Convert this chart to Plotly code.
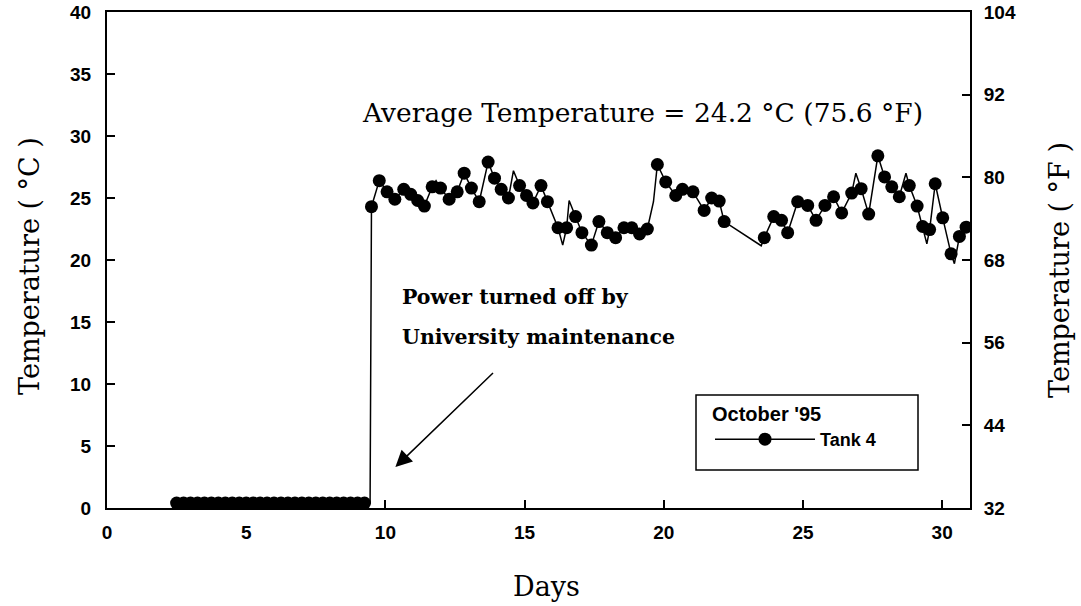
import plotly.graph_objects as go

# ---- data ----
# power-off period (readings at ~0.4 °C)
off_days = [2.5, 2.75, 3.0, 3.25, 3.5, 3.75, 4.0, 4.25, 4.5, 4.75, 5.0, 5.25, 5.5, 5.75,
            6.0, 6.25, 6.5, 6.75, 7.0, 7.25, 7.5, 7.75, 8.0, 8.25, 8.5, 8.75, 9.0, 9.25]
off_temp = [0.4] * len(off_days)

# marked readings after power restored
on_days = [9.50, 9.78, 10.06, 10.34, 10.66, 10.91, 11.16, 11.40, 11.68, 11.98, 12.29, 12.58,
           12.83, 13.09, 13.37, 13.69, 13.92, 14.16, 14.42, 14.82, 15.07, 15.30, 15.59, 15.82,
           16.20, 16.51, 16.83, 17.06, 17.40, 17.67, 17.97, 18.27, 18.57, 18.85, 19.13, 19.41,
           19.77, 20.07, 20.43, 20.67, 21.05, 21.45, 21.72, 21.99, 22.17,
           23.61, 23.95, 24.23, 24.45, 24.81, 25.17, 25.47, 25.79, 26.10, 26.39, 26.75, 27.09,
           27.36, 27.69, 27.93, 28.19, 28.46, 28.82, 29.10, 29.30, 29.55, 29.75, 30.02, 30.32,
           30.62, 30.86]
on_temp = [24.3, 26.4, 25.5, 24.9, 25.7, 25.3, 24.8, 24.35, 25.9, 25.8, 24.9, 25.5,
           27.0, 25.8, 24.7, 27.9, 26.6, 25.7, 25.0, 26.0, 25.2, 24.6, 26.0, 24.7,
           22.6, 22.6, 23.5, 22.2, 21.2, 23.1, 22.2, 21.8, 22.6, 22.6, 22.1, 22.5,
           27.7, 26.3, 25.2, 25.7, 25.5, 24.0, 25.0, 24.75, 23.1,
           21.8, 23.5, 23.2, 22.2, 24.7, 24.4, 23.2, 24.4, 25.1, 23.8, 25.4, 25.75,
           23.7, 28.4, 26.7, 25.9, 25.1, 26.0, 24.35, 22.7, 22.45, 26.15, 23.4, 20.5,
           21.9, 22.65]

# unmarked readings that only appear in the connecting line
line_only_days = [9.45, 11.82, 14.60, 16.37, 16.60, 19.63, 23.50, 26.90, 28.70, 29.45, 30.44]
line_only_temp = [0.4, 26.4, 27.2, 21.2, 24.8, 24.7, 21.15, 27.0, 27.0, 21.3, 19.7]

x_ticks = [0, 5, 10, 15, 20, 25, 30]
yc_ticks = [0, 5, 10, 15, 20, 25, 30, 35, 40]
yf_ticks = [32, 44, 56, 68, 80, 92, 104]

# merged line
pts = sorted(list(zip(off_days, off_temp)) + list(zip(on_days, on_temp)) +
             list(zip(line_only_days, line_only_temp)))
line_x = [p[0] for p in pts]
line_y = [p[1] for p in pts]

fig = go.Figure()
fig.add_trace(go.Scatter(x=line_x, y=line_y, mode="lines",
                         line=dict(color="black", width=1.5),
                         showlegend=False, hoverinfo="skip"))
fig.add_trace(go.Scatter(x=off_days + on_days, y=off_temp + on_temp, mode="markers",
                         marker=dict(color="black", size=13),
                         showlegend=False))
fig.add_trace(go.Scatter(x=[None], y=[None], mode="lines+markers", name="Tank 4",
                         line=dict(color="black", width=1.5),
                         marker=dict(color="black", size=13)))
# Fahrenheit scale companion trace (invisible)
fig.add_trace(go.Scatter(x=on_days, y=[t * 9 / 5 + 32 for t in on_temp], yaxis="y2",
                         mode="markers", marker=dict(opacity=0), showlegend=False,
                         hoverinfo="skip"))

tickfont = dict(family="Liberation Sans", size=19, color="black", weight="bold")
serif = "DejaVu Serif"

# plot area in page pixels: x 107..970, y 12..508 (body margin removed below)
L, R, T, B = 107, 970, 12, 508
W, H = R - L, B - T


def px(xp):
    return (xp - L) / W


def py(yp):
    return (B - yp) / H


axis_common = dict(ticks="inside", ticklen=8, tickwidth=1.5, tickcolor="black",
                   showline=True, linecolor="black", linewidth=2, showgrid=False,
                   zeroline=False, tickfont=tickfont, automargin=False)

fig.update_layout(
    width=1081, height=606,
    margin=dict(l=L, r=1081 - R, t=T, b=606 - B),
    paper_bgcolor="white", plot_bgcolor="white",
    xaxis=dict(range=[0, 31], tickvals=x_ticks, mirror=True, ticklabelstandoff=6,
               **axis_common),
    yaxis=dict(range=[0, 40], tickvals=yc_ticks, ticklabelstandoff=10, **axis_common),
    yaxis2=dict(range=[32, 104], tickvals=yf_ticks, overlaying="y", side="right",
                ticklabelstandoff=8, **axis_common),
    legend=dict(x=px(710), y=py(395), xanchor="left", yanchor="top",
                bgcolor="rgba(0,0,0,0)", borderwidth=0, itemwidth=100,
                title=dict(text="October '95",
                           font=dict(family="Liberation Sans", size=20, color="black",
                                     weight="bold")),
                font=dict(family="Liberation Sans", size=18, color="black", weight="bold"),
                tracegroupgap=0),
    shapes=[dict(type="rect", xref="paper", yref="paper",
                 x0=px(696), x1=px(918), y0=py(470), y1=py(395),
                 line=dict(color="black", width=1.5))],
    annotations=[
        dict(x=px(29), y=py(266), xref="paper", yref="paper", text="Temperature ( °C )",
             textangle=-90, showarrow=False, xanchor="center", yanchor="middle",
             font=dict(family=serif, size=27, color="black")),
        dict(x=px(1059), y=py(270), xref="paper", yref="paper", text="Temperature ( °F )",
             textangle=-90, showarrow=False, xanchor="center", yanchor="middle",
             font=dict(family=serif, size=27, color="black")),
        dict(x=px(546), y=py(586), xref="paper", yref="paper", text="Days",
             showarrow=False, xanchor="center", yanchor="middle",
             font=dict(family=serif, size=27, color="black")),
        dict(x=px(360), y=py(112), xref="paper", yref="paper", xanchor="left",
             yanchor="middle", text="Average Temperature = 24.2 °C (75.6 °F)",
             showarrow=False, font=dict(family=serif, size=26.5, color="black")),
        dict(x=px(400), y=py(297), xref="paper", yref="paper", xanchor="left",
             yanchor="middle", text="Power turned off by", showarrow=False,
             font=dict(family=serif, size=20.5, color="black", weight="bold")),
        dict(x=px(400), y=py(337), xref="paper", yref="paper", xanchor="left",
             yanchor="middle", text="University maintenance", showarrow=False,
             font=dict(family=serif, size=20.5, color="black", weight="bold")),
        dict(x=10.36, y=3.3, ax=13.92, ay=11.0, xref="x", yref="y", axref="x", ayref="y",
             text="", showarrow=True, arrowhead=2, arrowsize=2.2, arrowwidth=1.5,
             arrowcolor="black"),
    ],
)

fig.write_html("out.html", config={"displayModeBar": False},
               post_script="document.body.style.margin='0';document.body.style.padding='0';")
